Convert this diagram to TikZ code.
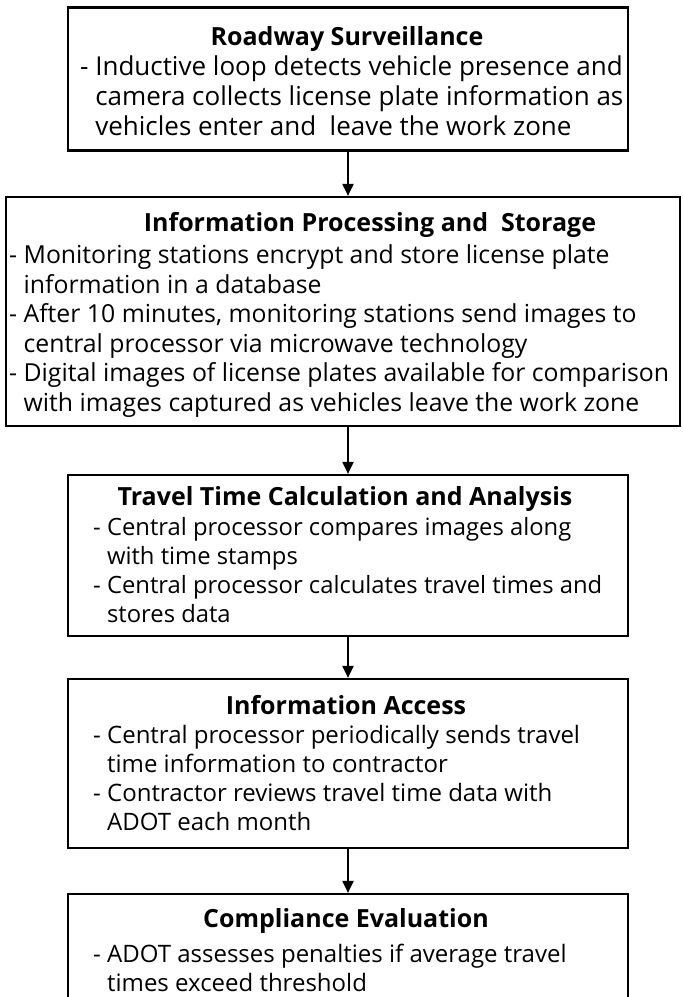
\documentclass[tikz,border=0pt]{standalone}
\usepackage{fontspec}
\setmainfont{Open Sans}
\usetikzlibrary{arrows.meta}
\tikzset{
  box/.style={draw, line width=2.2pt, inner sep=0pt},
  ttl/.style={font=\fontsize{25}{30}\selectfont\bfseries, inner sep=0pt, anchor=base},
  bodytext/.style 2 args={font=\fontsize{#1}{#2}\selectfont, inner sep=0pt, anchor=base west, align=left},
  arr/.style={line width=2pt, -{Triangle[length=12pt,width=11pt]}}
}
\newcommand{\hang}{\phantom{- }}
\begin{document}
\begin{tikzpicture}[x=1pt,y=-1pt]
\useasboundingbox (0,0) rectangle (683,997);
% boxes
\node[box, minimum width=560pt, minimum height=143pt] (b1) at (348,79) {};
\node[box, minimum width=674pt, minimum height=229pt] (b2) at (343,311.5) {};
\node[box, minimum width=560pt, minimum height=161pt] (b3) at (348,555.5) {};
\node[box, minimum width=560pt, minimum height=169pt] (b4) at (348,763.5) {};
\node[box, minimum width=560pt, minimum height=160pt] (b5) at (348,974) {};
% titles
\node[ttl] (t1) at (347,45) {Roadway Surveillance};
\node[ttl] (t2) at (370,231) {Information Processing and\ \ Storage};
\node[ttl] (t3) at (345,505) {Travel Time Calculation and Analysis};
\node[ttl] (t4) at (346,714) {Information Access};
\node[ttl] (t5) at (346,927) {Compliance Evaluation};
% bodies (anchored at baseline of last line)
\node[bodytext={26}{30}] (x1) at (80,135) {- Inductive loop detects vehicle presence and\\
\hang camera collects license plate information as\\
\hang vehicles enter and\ \ leave the work zone};
\node[bodytext={24.8}{29.5}] (x2) at (9,411) {- Monitoring stations encrypt and store license plate\\
\hang information in a database\\
- After 10 minutes, monitoring stations send images to\\
\hang central processor via microwave technology\\
- Digital images of license plates available for comparison\\
\hang with images captured as vehicles leave the work zone};
\node[bodytext={23.8}{29}] (x3) at (93,622) {- Central processor compares images along\\
\hang with time stamps\\
- Central processor calculates travel times and\\
\hang stores data};
\node[bodytext={24}{29}] (x4) at (93,830) {- Central processor periodically sends travel\\
\hang time information to contractor\\
- Contractor reviews travel time data with\\
\hang ADOT each month};
\node[bodytext={24}{29}] (x5) at (93,991) {- ADOT assesses penalties if average travel\\
\hang times exceed threshold};
% arrows
\draw[arr] (b1.south) -- (b1.south |- b2.north);
\draw[arr] (b3.north |- b2.south) -- (b3.north);
\draw[arr] (b3.south) -- (b4.north);
\draw[arr] (b4.south) -- (b5.north);
\end{tikzpicture}
\end{document}
